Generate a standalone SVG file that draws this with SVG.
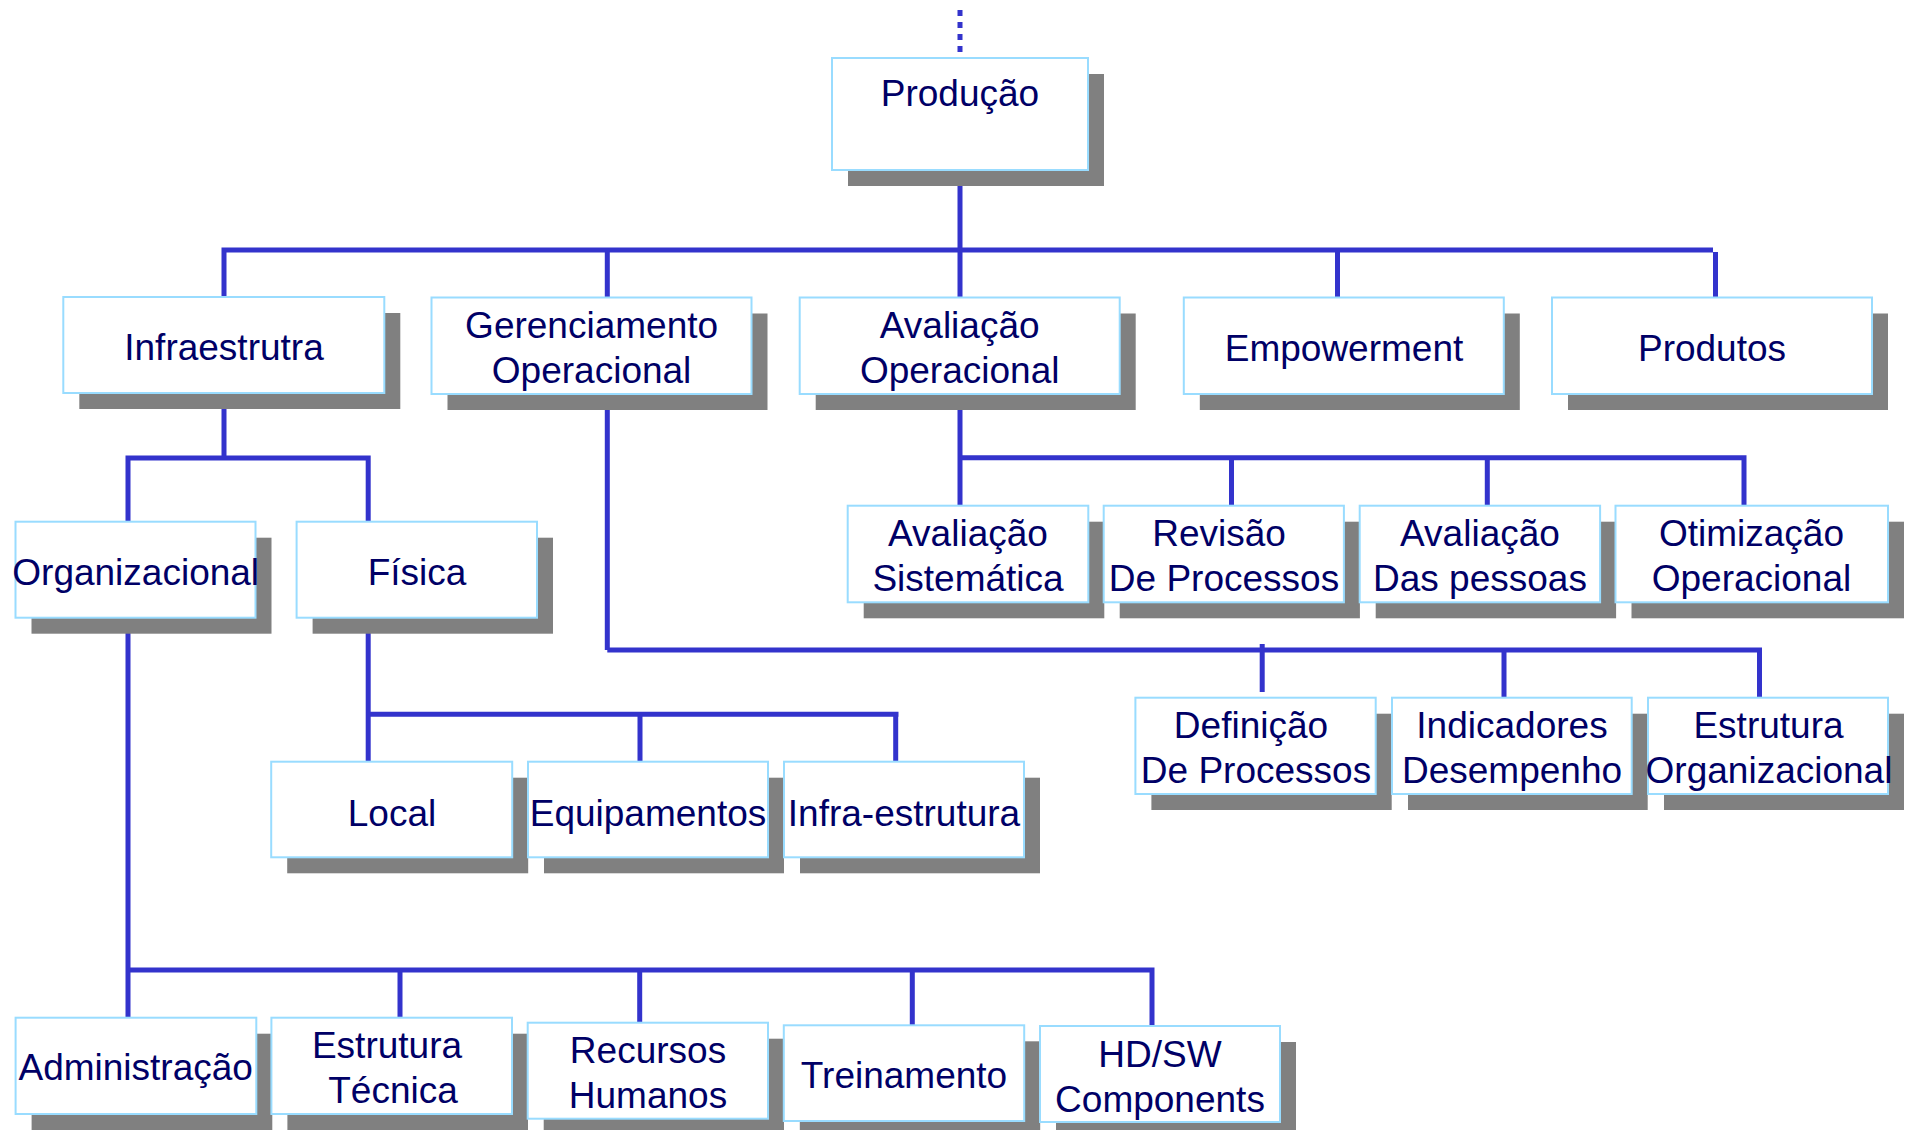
<svg xmlns="http://www.w3.org/2000/svg" width="1908" height="1130" viewBox="0 0 1908 1130">
<style>
.sh{fill:#808080}
.box{fill:#fff;stroke:#99dcff;stroke-width:2}
.t{font-family:"Liberation Sans",Arial,sans-serif;font-size:37px;fill:#000066;text-anchor:middle}
.c{stroke:#3333cc;stroke-width:5;fill:none;stroke-linecap:butt}
</style>
<rect width="1908" height="1130" fill="#fff"/>
<g id="connectors">
<line class="c" x1="960" y1="10" x2="960" y2="52" stroke-dasharray="6 6" stroke-width="6"/>
<path class="c" d="M960 170 V250 M221.5 250 H1713 M224 250 V297 M607.3 250 V297 M960 250 V297 M1337.5 250 V297 M1715.5 252 V297"/>
<path class="c" d="M224 393 V458 M125.5 458 H370.7 M128 458 V522 M368.2 458 V522"/>
<path class="c" d="M128 618 V1018 M128 970 H1154.5 M400 970 V1018 M639.7 970 V1023 M912.3 970 V1025 M1152 970 V1026"/>
<path class="c" d="M368.2 618 V762 M368.2 714.2 H898.5 M640 714.2 V762 M895.7 714.2 V762"/>
<path class="c" d="M607.3 394 V650 M607.3 650 H1762 M1262.2 644 V692 M1504 650 V698 M1759.5 650 V698"/>
<path class="c" d="M960 394 V506 M960 457.8 H1746.5 M1231.5 457.8 V506 M1487.3 457.8 V506 M1744 457.8 V506"/>
</g>
<g id="n-producao"><rect class="sh" x="848" y="74" width="256" height="112"/><rect class="box" x="832" y="58" width="256" height="112"/><text class="t" x="960" y="105.8">Produção</text></g>
<g id="n-infraestrutra"><rect class="sh" x="79.3" y="313" width="321" height="96"/><rect class="box" x="63.3" y="297" width="321" height="96"/><text class="t" x="224" y="359.8">Infraestrutra</text></g>
<g id="n-gerenciamento"><rect class="sh" x="447.5" y="313.5" width="320" height="96.5"/><rect class="box" x="431.5" y="297.5" width="320" height="96.5"/><text class="t" x="591.6" y="338">Gerenciamento</text><text class="t" x="591.6" y="383">Operacional</text></g>
<g id="n-avaliacao-op"><rect class="sh" x="815.7" y="313.5" width="320" height="96.5"/><rect class="box" x="799.7" y="297.5" width="320" height="96.5"/><text class="t" x="959.7" y="338">Avaliação</text><text class="t" x="959.7" y="383">Operacional</text></g>
<g id="n-empowerment"><rect class="sh" x="1199.8" y="313.5" width="320" height="96.5"/><rect class="box" x="1183.8" y="297.5" width="320" height="96.5"/><text class="t" x="1344" y="360.8">Empowerment</text></g>
<g id="n-produtos"><rect class="sh" x="1568" y="313.5" width="320" height="96.5"/><rect class="box" x="1552" y="297.5" width="320" height="96.5"/><text class="t" x="1712" y="360.8">Produtos</text></g>
<g id="n-organizacional"><rect class="sh" x="31.5" y="537.7" width="240" height="96"/><rect class="box" x="15.5" y="521.7" width="240" height="96"/><text class="t" x="135.7" y="584.8">Organizacional</text></g>
<g id="n-fisica"><rect class="sh" x="312.6" y="537.7" width="240.4" height="96"/><rect class="box" x="296.6" y="521.7" width="240.4" height="96"/><text class="t" x="417" y="584.8">Física</text></g>
<g id="n-local"><rect class="sh" x="287.2" y="777.7" width="241" height="95.6"/><rect class="box" x="271.2" y="761.7" width="241" height="95.6"/><text class="t" x="392" y="825.5">Local</text></g>
<g id="n-equipamentos"><rect class="sh" x="544" y="777.7" width="240" height="95.6"/><rect class="box" x="528" y="761.7" width="240" height="95.6"/><text class="t" x="648" y="825.5">Equipamentos</text></g>
<g id="n-infra-estrutura"><rect class="sh" x="800" y="777.7" width="240" height="95.6"/><rect class="box" x="784" y="761.7" width="240" height="95.6"/><text class="t" x="904" y="825.5">Infra-estrutura</text></g>
<g id="n-aval-sist"><rect class="sh" x="863.7" y="521.7" width="240.6" height="96.6"/><rect class="box" x="847.7" y="505.7" width="240.6" height="96.6"/><text class="t" x="968" y="546.3">Avaliação</text><text class="t" x="968" y="591.3">Sistemática</text></g>
<g id="n-revisao"><rect class="sh" x="1119.7" y="521.7" width="240.2" height="96.6"/><rect class="box" x="1103.7" y="505.7" width="240.2" height="96.6"/><text class="t" x="1219" y="546.3">Revisão</text><text class="t" x="1224" y="591.3">De Processos</text></g>
<g id="n-aval-pessoas"><rect class="sh" x="1375.7" y="521.7" width="240.4" height="96.6"/><rect class="box" x="1359.7" y="505.7" width="240.4" height="96.6"/><text class="t" x="1480" y="546.3">Avaliação</text><text class="t" x="1480" y="591.3">Das pessoas</text></g>
<g id="n-otimizacao"><rect class="sh" x="1631.5" y="521.7" width="272.5" height="96.6"/><rect class="box" x="1615.5" y="505.7" width="272.5" height="96.6"/><text class="t" x="1751.5" y="546.3">Otimização</text><text class="t" x="1751.5" y="591.3">Operacional</text></g>
<g id="n-definicao"><rect class="sh" x="1151.4" y="713.7" width="240.3" height="96.3"/><rect class="box" x="1135.4" y="697.7" width="240.3" height="96.3"/><text class="t" x="1251" y="738">Definição</text><text class="t" x="1256" y="783">De Processos</text></g>
<g id="n-indicadores"><rect class="sh" x="1408" y="713.7" width="239.7" height="96.3"/><rect class="box" x="1392" y="697.7" width="239.7" height="96.3"/><text class="t" x="1512" y="738">Indicadores</text><text class="t" x="1512" y="783">Desempenho</text></g>
<g id="n-estrutura-org"><rect class="sh" x="1664" y="713.7" width="240" height="96.3"/><rect class="box" x="1648" y="697.7" width="240" height="96.3"/><text class="t" x="1768.5" y="738">Estrutura</text><text class="t" x="1769" y="783">Organizacional</text></g>
<g id="n-administracao"><rect class="sh" x="31.6" y="1033.7" width="240.7" height="96.3"/><rect class="box" x="15.6" y="1017.7" width="240.7" height="96.3"/><text class="t" x="135.7" y="1080">Administração</text></g>
<g id="n-estrutura-tec"><rect class="sh" x="287.4" y="1033.7" width="240.6" height="96.3"/><rect class="box" x="271.4" y="1017.7" width="240.6" height="96.3"/><text class="t" x="387" y="1057.5">Estrutura</text><text class="t" x="393" y="1102.5">Técnica</text></g>
<g id="n-recursos"><rect class="sh" x="543.7" y="1038.7" width="240.3" height="96"/><rect class="box" x="527.7" y="1022.7" width="240.3" height="96"/><text class="t" x="648" y="1062.5">Recursos</text><text class="t" x="648" y="1108">Humanos</text></g>
<g id="n-treinamento"><rect class="sh" x="799.8" y="1041.3" width="240.4" height="95.7"/><rect class="box" x="783.8" y="1025.3" width="240.4" height="95.7"/><text class="t" x="904" y="1088">Treinamento</text></g>
<g id="n-hdsw"><rect class="sh" x="1056" y="1042" width="240" height="96"/><rect class="box" x="1040" y="1026" width="240" height="96"/><text class="t" x="1160" y="1066.5">HD/SW</text><text class="t" x="1160" y="1111.5">Components</text></g>
</svg>
